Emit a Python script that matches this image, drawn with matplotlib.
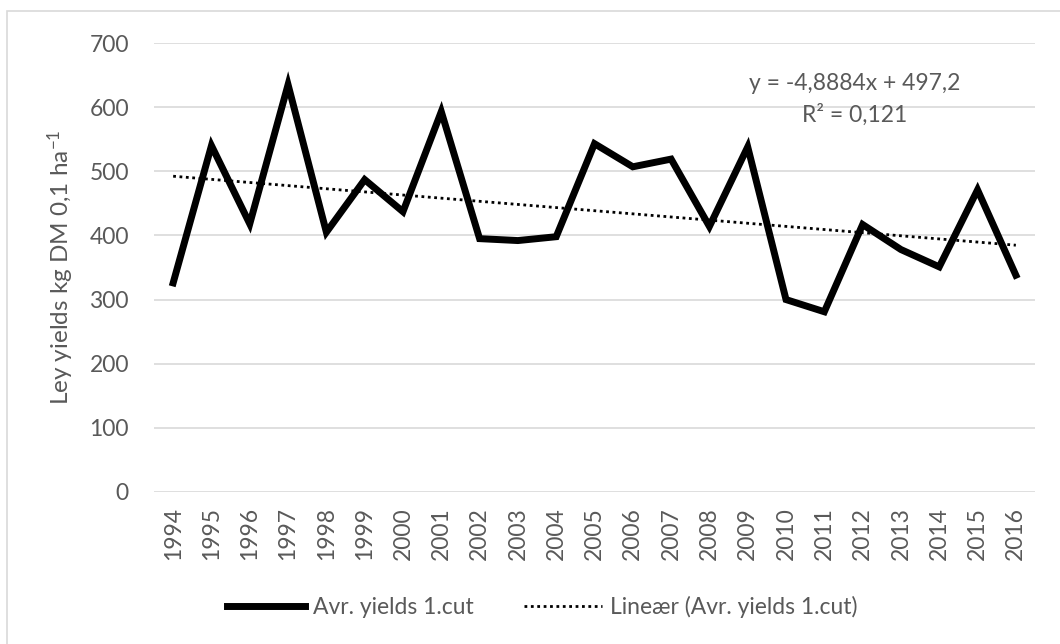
import matplotlib
matplotlib.use("Agg")
import matplotlib.pyplot as plt
import numpy as np

plt.rcParams["font.family"] = ["Lato", "DejaVu Sans"]
plt.rcParams["mathtext.fontset"] = "custom"
plt.rcParams["mathtext.rm"] = "Lato"
plt.rcParams["mathtext.it"] = "Lato"

years = [str(y) for y in range(1994, 2017)]
yields = [326, 540, 418, 635, 405, 487, 437, 593, 395, 392, 398, 543,
          507, 519, 414, 538, 300, 281, 417, 378, 351, 471, 338]
# trendline coefficients as shown on the chart (x = 1..23)
trend_slope = -4.8884
trend_intercept = 497.2
eq_text = "y = -4,8884x + 497,2"
r2_text = "R² = 0,121"

grey = "#595959"
fs = 16.5

fig = plt.figure(figsize=(10.6, 6.44), dpi=100)
ax = fig.add_axes([154 / 1060, 1 - 492 / 644, 881 / 1060, 449 / 644])

x = np.arange(len(years))
trend = trend_intercept + trend_slope * (x + 1)

ax.plot(x, yields, color="black", lw=5, solid_joinstyle="miter",
        label="Avr. yields 1.cut", zorder=3)
ax.plot(x, trend, color="black", lw=2, ls=(0, (1, 1.3)),
        label="Lineær (Avr. yields 1.cut)", zorder=4)

ax.set_xlim(-0.5, len(years) - 0.5)
ax.set_ylim(0, 700)
ax.set_yticks(range(0, 701, 100))
ax.set_xticks(x)
ax.set_xticklabels(years, rotation=90)
ax.grid(axis="y", color="#d9d9d9", lw=1.2)
ax.set_axisbelow(True)
for s in ax.spines.values():
    s.set_visible(False)
ax.tick_params(length=0, labelsize=fs, colors=grey)
ax.tick_params(axis="x", pad=11)
ax.tick_params(axis="y", pad=18)
ax.set_ylabel("Ley yields kg DM 0,1 ha$^{-1}$", fontsize=17.5, color=grey)
ax.yaxis.set_label_coords(-0.088, 0.5)

ax.text(17.8, 637, eq_text, ha="center", va="center", fontsize=fs, color=grey)
ax.text(17.8, 588, r2_text, ha="center", va="center", fontsize=fs, color=grey)

fig.legend(loc="center", bbox_to_anchor=(542 / 1060, 1 - 607 / 644), ncol=2,
           frameon=False, fontsize=fs, labelcolor=grey, handlelength=3.4,
           handletextpad=0.35, columnspacing=2.2)

# outer chart border
fig.patches.append(plt.Rectangle((7 / 1060, -0.1), 1.2, 1 - 11 / 644 + 0.1,
                                 transform=fig.transFigure, fill=False,
                                 edgecolor="#d9d9d9", lw=1.2))

fig.savefig("out.png", dpi=100)
